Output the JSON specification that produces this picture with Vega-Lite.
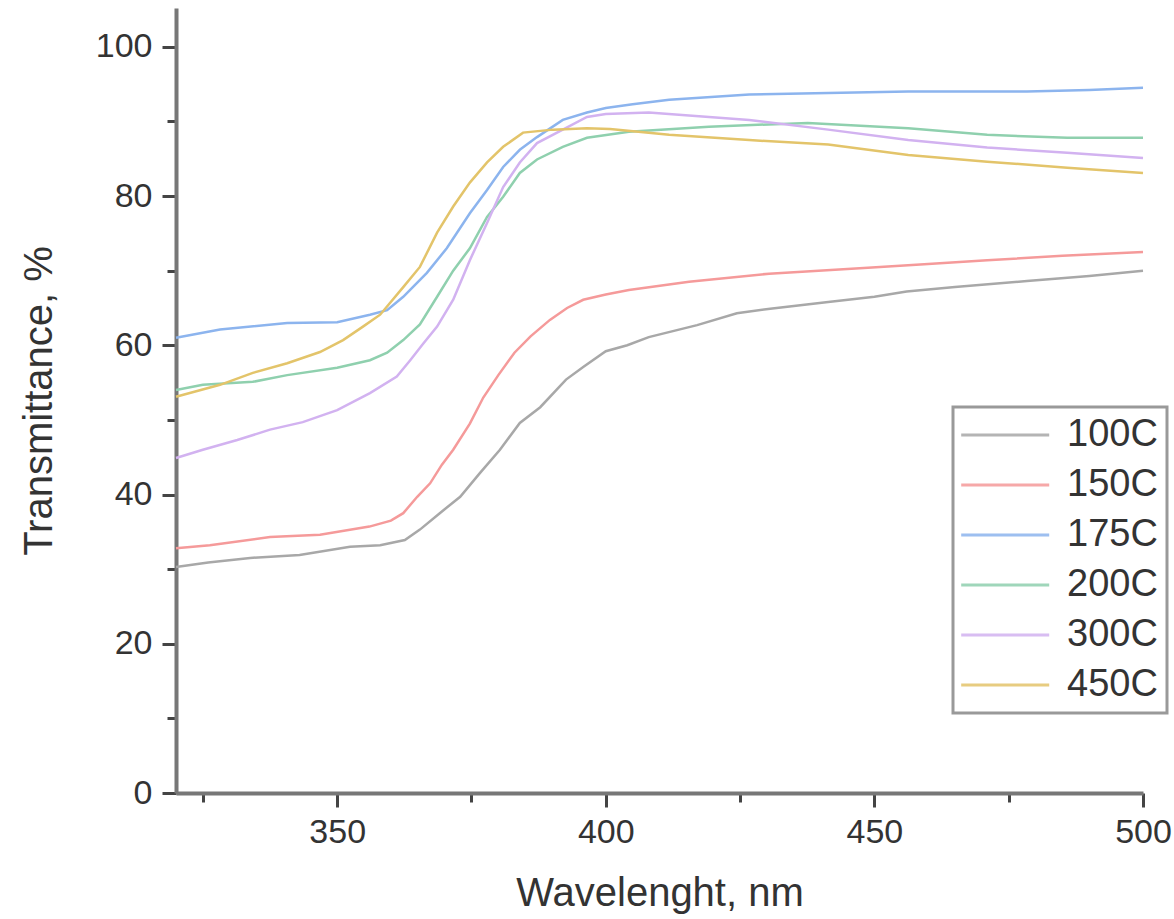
{
  "$schema": "https://vega.github.io/schema/vega-lite/v6.json",
  "autosize": {"type": "none"},
  "padding": {"left": 176, "top": 8, "right": 31, "bottom": 126},
  "width": 967,
  "height": 785,
  "background": "white",
  "config": {
    "view": {"stroke": null},
    "font": "Liberation Sans",
    "axis": {"grid": false, "labelFont": "Liberation Sans", "titleFont": "Liberation Sans", "labelColor": "#333", "titleColor": "#333", "titleFontWeight": "normal"}
  },
  "data": {"values": [
    {"s":"100C","x":320,"y":30.3},{"s":"100C","x":326,"y":30.9},{"s":"100C","x":333.8,"y":31.5},{"s":"100C","x":343,"y":31.9},{"s":"100C","x":352.4,"y":33.0},{"s":"100C","x":358,"y":33.2},{"s":"100C","x":362.6,"y":33.9},{"s":"100C","x":365.4,"y":35.3},{"s":"100C","x":369.1,"y":37.5},{"s":"100C","x":372.9,"y":39.7},{"s":"100C","x":376.6,"y":42.9},{"s":"100C","x":380.3,"y":46.0},{"s":"100C","x":384,"y":49.6},{"s":"100C","x":387.8,"y":51.7},{"s":"100C","x":392.6,"y":55.4},{"s":"100C","x":395.8,"y":57.1},{"s":"100C","x":400,"y":59.2},{"s":"100C","x":404,"y":60.0},{"s":"100C","x":408,"y":61.1},{"s":"100C","x":417,"y":62.7},{"s":"100C","x":424.4,"y":64.3},{"s":"100C","x":430.6,"y":64.9},{"s":"100C","x":441.4,"y":65.8},{"s":"100C","x":450,"y":66.5},{"s":"100C","x":456,"y":67.2},{"s":"100C","x":465,"y":67.8},{"s":"100C","x":478.4,"y":68.6},{"s":"100C","x":490,"y":69.3},{"s":"100C","x":500,"y":70.0},
    {"s":"150C","x":320,"y":32.8},{"s":"150C","x":326.3,"y":33.2},{"s":"150C","x":337.5,"y":34.3},{"s":"150C","x":346.8,"y":34.6},{"s":"150C","x":356,"y":35.7},{"s":"150C","x":360,"y":36.5},{"s":"150C","x":362.3,"y":37.5},{"s":"150C","x":364.9,"y":39.7},{"s":"150C","x":367.3,"y":41.5},{"s":"150C","x":369.5,"y":44.0},{"s":"150C","x":371.6,"y":46.0},{"s":"150C","x":374.7,"y":49.5},{"s":"150C","x":377.2,"y":53.0},{"s":"150C","x":380,"y":56.0},{"s":"150C","x":383,"y":59.0},{"s":"150C","x":386,"y":61.2},{"s":"150C","x":389.6,"y":63.4},{"s":"150C","x":392.8,"y":65.0},{"s":"150C","x":395.8,"y":66.1},{"s":"150C","x":400,"y":66.8},{"s":"150C","x":404.3,"y":67.4},{"s":"150C","x":415.5,"y":68.5},{"s":"150C","x":430.4,"y":69.6},{"s":"150C","x":448.8,"y":70.4},{"s":"150C","x":460,"y":70.9},{"s":"150C","x":471,"y":71.4},{"s":"150C","x":485,"y":72.0},{"s":"150C","x":500,"y":72.5},
    {"s":"175C","x":320,"y":61.0},{"s":"175C","x":328.2,"y":62.1},{"s":"175C","x":340.7,"y":63.0},{"s":"175C","x":350,"y":63.1},{"s":"175C","x":356.1,"y":64.1},{"s":"175C","x":359.3,"y":64.7},{"s":"175C","x":362.3,"y":66.5},{"s":"175C","x":366.7,"y":69.7},{"s":"175C","x":370.4,"y":73.0},{"s":"175C","x":374.7,"y":77.7},{"s":"175C","x":377.9,"y":80.8},{"s":"175C","x":380.9,"y":83.9},{"s":"175C","x":384,"y":86.2},{"s":"175C","x":387.2,"y":87.9},{"s":"175C","x":392,"y":90.2},{"s":"175C","x":396.5,"y":91.2},{"s":"175C","x":400,"y":91.8},{"s":"175C","x":405,"y":92.3},{"s":"175C","x":411.8,"y":92.9},{"s":"175C","x":426.7,"y":93.6},{"s":"175C","x":441.4,"y":93.8},{"s":"175C","x":456.3,"y":94.0},{"s":"175C","x":478.4,"y":94.0},{"s":"175C","x":490,"y":94.2},{"s":"175C","x":500,"y":94.5},
    {"s":"200C","x":320,"y":54.0},{"s":"200C","x":325,"y":54.7},{"s":"200C","x":334.3,"y":55.1},{"s":"200C","x":340.7,"y":56.0},{"s":"200C","x":350,"y":57.0},{"s":"200C","x":356.1,"y":58.0},{"s":"200C","x":359.3,"y":59.0},{"s":"200C","x":362.3,"y":60.7},{"s":"200C","x":365.4,"y":62.8},{"s":"200C","x":368.6,"y":66.5},{"s":"200C","x":371.6,"y":70.0},{"s":"200C","x":374.7,"y":73.0},{"s":"200C","x":377.9,"y":77.2},{"s":"200C","x":380.9,"y":79.9},{"s":"200C","x":384,"y":83.1},{"s":"200C","x":387.2,"y":84.9},{"s":"200C","x":392,"y":86.6},{"s":"200C","x":396.5,"y":87.8},{"s":"200C","x":404.3,"y":88.6},{"s":"200C","x":419.2,"y":89.3},{"s":"200C","x":437.6,"y":89.8},{"s":"200C","x":456.3,"y":89.1},{"s":"200C","x":471,"y":88.2},{"s":"200C","x":485.9,"y":87.8},{"s":"200C","x":500,"y":87.8},
    {"s":"300C","x":320,"y":44.9},{"s":"300C","x":325,"y":46.0},{"s":"300C","x":331.4,"y":47.3},{"s":"300C","x":337.5,"y":48.7},{"s":"300C","x":343.6,"y":49.7},{"s":"300C","x":350,"y":51.3},{"s":"300C","x":356.1,"y":53.6},{"s":"300C","x":361.1,"y":55.8},{"s":"300C","x":363.6,"y":58.0},{"s":"300C","x":366,"y":60.2},{"s":"300C","x":368.6,"y":62.5},{"s":"300C","x":371.6,"y":66.1},{"s":"300C","x":374.7,"y":71.4},{"s":"300C","x":377.9,"y":76.4},{"s":"300C","x":380.9,"y":81.2},{"s":"300C","x":384,"y":84.5},{"s":"300C","x":387.2,"y":87.1},{"s":"300C","x":392,"y":88.9},{"s":"300C","x":396.5,"y":90.6},{"s":"300C","x":400,"y":91.0},{"s":"300C","x":408,"y":91.2},{"s":"300C","x":426.7,"y":90.2},{"s":"300C","x":441.4,"y":88.9},{"s":"300C","x":456.3,"y":87.5},{"s":"300C","x":471,"y":86.5},{"s":"300C","x":485.9,"y":85.8},{"s":"300C","x":500,"y":85.1},
    {"s":"450C","x":320,"y":53.1},{"s":"450C","x":328.2,"y":54.7},{"s":"450C","x":334.3,"y":56.3},{"s":"450C","x":340.7,"y":57.6},{"s":"450C","x":346.8,"y":59.1},{"s":"450C","x":351.1,"y":60.7},{"s":"450C","x":354.8,"y":62.5},{"s":"450C","x":358,"y":64.1},{"s":"450C","x":362.3,"y":67.8},{"s":"450C","x":365.4,"y":70.5},{"s":"450C","x":368.6,"y":75.1},{"s":"450C","x":371.6,"y":78.6},{"s":"450C","x":374.7,"y":81.8},{"s":"450C","x":377.9,"y":84.5},{"s":"450C","x":380.9,"y":86.6},{"s":"450C","x":384.6,"y":88.5},{"s":"450C","x":390.2,"y":88.9},{"s":"450C","x":396.5,"y":89.1},{"s":"450C","x":400.8,"y":89.0},{"s":"450C","x":411.8,"y":88.2},{"s":"450C","x":426.7,"y":87.5},{"s":"450C","x":441.4,"y":86.9},{"s":"450C","x":456.3,"y":85.5},{"s":"450C","x":471,"y":84.6},{"s":"450C","x":485.9,"y":83.8},{"s":"450C","x":500,"y":83.1}
  ]},
  "layer": [
    {
      "mark": {"type": "line", "opacity": 0},
      "encoding": {
        "x": {"field": "x", "type": "quantitative", "scale": {"domain": [320, 500], "nice": false, "zero": false},
          "axis": {"orient": "bottom", "values": [325, 375, 425, 475], "labels": false, "domain": false, "title": null, "tickSize": 9, "tickWidth": 3, "tickColor": "#444"}},
        "y": {"field": "y", "type": "quantitative", "scale": {"domain": [0, 105.2], "nice": false},
          "axis": {"orient": "left", "values": [10, 30, 50, 70, 90], "labels": false, "domain": false, "title": null, "tickSize": 9, "tickWidth": 3, "tickColor": "#444"}},
        "detail": {"field": "s"}
      }
    },
    {
      "mark": {"type": "line", "strokeWidth": 2.5},
      "encoding": {
        "x": {"field": "x", "type": "quantitative", "scale": {"domain": [320, 500], "nice": false, "zero": false},
          "axis": {"orient": "bottom", "values": [350, 400, 450, 500], "title": "Wavelenght, nm", "titleFontSize": 40, "titlePadding": 24, "labelFontSize": 34, "labelPadding": 8, "tickSize": 14, "tickWidth": 3, "tickColor": "#444", "domainColor": "#777", "domainWidth": 4, "labelFlush": false}},
        "y": {"field": "y", "type": "quantitative", "scale": {"domain": [0, 105.2], "nice": false},
          "axis": {"orient": "left", "values": [0, 20, 40, 60, 80, 100], "title": "Transmittance, %", "titleFontSize": 40, "titlePadding": 36, "labelFontSize": 34, "labelPadding": 10, "tickSize": 14, "tickWidth": 3, "tickColor": "#444", "domainColor": "#777", "domainWidth": 4, "labelFlush": false}},
        "color": {"field": "s", "type": "nominal",
          "scale": {"domain": ["100C", "150C", "175C", "200C", "300C", "450C"], "range": ["#a8a8a8", "#f59a9a", "#8cb4ee", "#8fd0ae", "#d2b2f0", "#e3c46a"]},
          "legend": {"title": null, "orient": "none", "legendX": 777, "legendY": 399, "padding": 9, "strokeColor": "#999", "fillColor": "white",
            "symbolType": "M-1.8,0L6.2,0", "symbolSize": 484, "symbolStrokeWidth": 3, "symbolOpacity": 0.85,
            "labelFontSize": 38, "labelFont": "Liberation Sans", "labelColor": "#333", "labelOffset": 67, "labelLimit": 0, "rowPadding": 12,
            "encode": {"legend": {"update": {"strokeWidth": {"value": 3}}}}}}
      }
    }
  ],
  "resolve": {"axis": {"x": "independent", "y": "independent"}}
}
